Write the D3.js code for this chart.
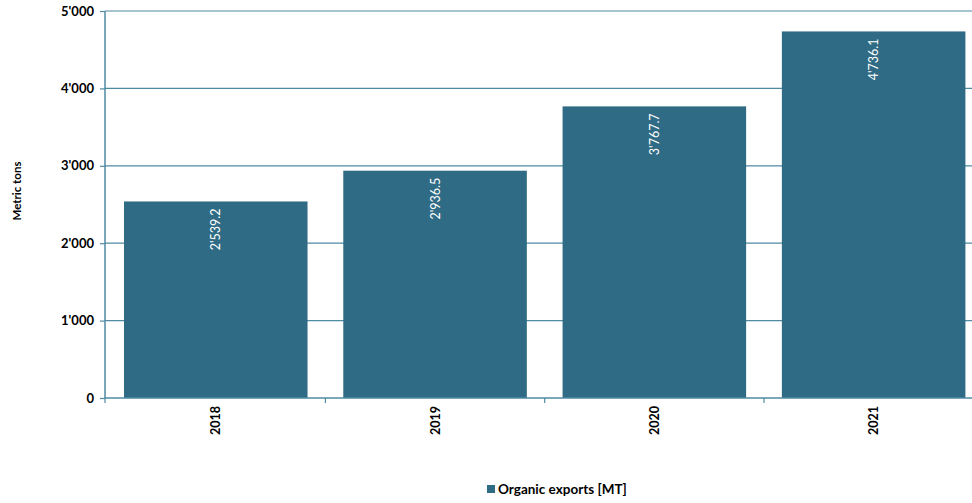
<!DOCTYPE html>
<html>
<head>
<meta charset="utf-8">
<script src="https://cdn.jsdelivr.net/npm/d3@7"></script>
<style>
  body { margin: 0; background: #fff; }
  svg text { font-family: Lato, "Open Sans", sans-serif; }
</style>
</head>
<body>
<div id="div_canvas"></div>
<script>
var years = ["2018", "2019", "2020", "2021"]
var exports = [2539.2, 2936.5, 3767.7, 4736.1]
var yTicks = [0, 1000, 2000, 3000, 4000, 5000]
var seriesName = "Organic exports [MT]"

var margin = { left: 105, right: 0, top: 11, bottom: 105 };
var width = 972 - margin.left - margin.right;
var height = 503 - margin.top - margin.bottom;

var barColor = "#2f6b84";
var lineColor = "#4f8aa3";

var svg = d3.select("#div_canvas").append("svg")
    .attr("width", 972)
    .attr("height", 503)

var g = svg.append("g")
    .attr("transform", "translate(" + margin.left + ", " + margin.top + ")");

var loc = d3.formatLocale({ decimal: ".", thousands: "'", grouping: [3], currency: ["", ""] });
var fmtTick = loc.format(",.0f");
var fmtVal = loc.format(",.1f");

// Scales
var y = d3.scaleLinear().domain([0, 5000]).range([height, 0]);
var x = d3.scaleBand().domain(years).range([0, 879.4]).paddingInner(0.163).paddingOuter(0.0866);

// Grid lines
g.selectAll("line.grid").data(yTicks.slice(1)).enter().append("line")
    .attr("class", "grid")
    .attr("x1", 0).attr("x2", width)
    .attr("y1", d => y(d)).attr("y2", d => y(d))
    .attr("stroke", lineColor).attr("stroke-width", 1.2)

// Bars
g.selectAll("rect").data(exports).enter().append("rect")
    .attr("x", (d, i) => x(years[i]))
    .attr("y", d => y(d))
    .attr("width", x.bandwidth())
    .attr("height", d => height - y(d))
    .attr("fill", barColor)

// Value labels
g.selectAll("text.val").data(exports).enter().append("text")
    .attr("class", "val")
    .attr("transform", (d, i) => "translate(" + (x(years[i]) + x.bandwidth() / 2 + 4.5) + "," + (y(d) + 7) + ") rotate(-90)")
    .attr("fill", "#fff")
    .attr("font-size", 12.5)
    .attr("text-anchor", "end")
    .text(d => fmtVal(d))

// Y axis
var yAxis = d3.axisLeft(y).tickValues(yTicks).tickFormat(fmtTick).tickSize(5).tickPadding(6);
var ya = g.append("g").attr("class", "y axis").call(yAxis);
ya.select(".domain").attr("stroke", lineColor).attr("stroke-width", 1.5).attr("d", "M0," + height + "V0");
ya.selectAll(".tick line").attr("stroke", lineColor).attr("stroke-width", 1.2);
ya.selectAll("text").attr("font-size", 13).attr("font-weight", "bold").attr("fill", "#000")
    .style("font-family", "Lato, sans-serif");

// X axis
var xa = g.append("g").attr("class", "x axis").attr("transform", "translate(0," + height + ")");
xa.append("line").attr("x1", 0).attr("x2", width).attr("stroke", lineColor).attr("stroke-width", 1.5);
var bounds = years.slice(1).map(d => x(d) - x.step() * x.paddingInner() / 2);
bounds.unshift(0);
xa.selectAll("line.tk").data(bounds).enter().append("line")
    .attr("class", "tk")
    .attr("x1", d => d).attr("x2", d => d).attr("y1", 0).attr("y2", 5)
    .attr("stroke", lineColor).attr("stroke-width", 1.2)
xa.selectAll("text").data(years).enter().append("text")
    .attr("transform", d => "translate(" + (x(d) + x.bandwidth() / 2 + 4.5) + ",8) rotate(-90)")
    .attr("text-anchor", "end")
    .attr("font-size", 12.5).attr("font-weight", "bold")
    .text(d => d)

// Y title
svg.append("text")
    .attr("transform", "translate(21," + (margin.top + 180) + ") rotate(-90)")
    .attr("text-anchor", "middle")
    .attr("font-size", 11.5).attr("font-weight", "bold")
    .text("Metric tons")

// Legend
var lg = svg.append("g").attr("transform", "translate(487,485)");
lg.append("rect").attr("width", 8).attr("height", 8).attr("fill", barColor);
lg.append("text").attr("x", 11).attr("y", 9).attr("font-size", 13.5).attr("font-weight", "bold").text(seriesName);
</script>
</body>
</html>
